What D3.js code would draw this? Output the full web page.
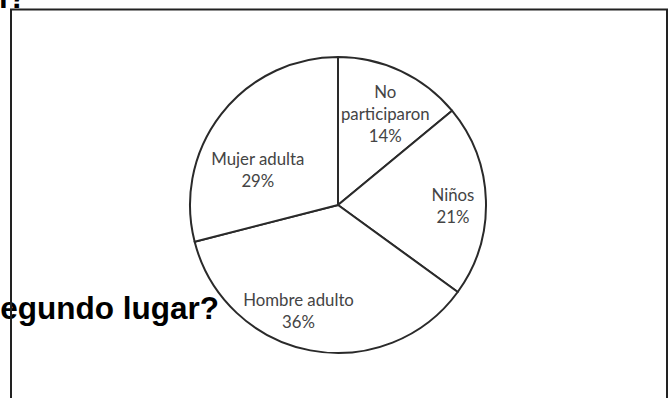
<!DOCTYPE html>
<html><head><meta charset="utf-8">
<script src="https://cdn.jsdelivr.net/npm/d3@7/dist/d3.min.js"></script>
<style>html,body{margin:0;padding:0;background:#fff;overflow:hidden}</style>
</head><body>
<script>
const categories = ["No participaron", "Niños", "Hombre adulto", "Mujer adulta"];
const values = [14, 21, 36, 29];
const labelLines = [["No", "participaron", "14%"], ["Niños", "21%"], ["Hombre adulto", "36%"], ["Mujer adulta", "29%"]];
const questionTail = "egundo lugar?";
const questionTopTail = "l?";

const W = 670, H = 398;
const svg = d3.select("body").append("svg").attr("width", W).attr("height", H);

// background question text (cut off)
svg.append("text").attr("x", 219).attr("y", 319).attr("text-anchor", "end")
  .attr("font-family", "Liberation Sans, Arial, sans-serif").attr("font-weight", "bold")
  .attr("font-size", 31.5).attr("fill", "#000").text(questionTail);
svg.append("text").attr("x", 27).attr("y", 8).attr("text-anchor", "end")
  .attr("font-family", "Liberation Sans, Arial, sans-serif").attr("font-weight", "bold")
  .attr("font-size", 31.5).attr("fill", "#000").text(questionTopTail);

// frame
svg.append("rect").attr("x", 11).attr("y", 9.5).attr("width", 656).attr("height", 420)
  .attr("fill", "none").attr("stroke", "#222").attr("stroke-width", 2);

const cx = 338, cy = 205, r = 148;
const g = svg.append("g").attr("transform", `translate(${cx},${cy})`);
const pie = d3.pie().sort(null).value(d => d)(values);
const arc = d3.arc().innerRadius(0).outerRadius(r);
g.selectAll("path.slice").data(pie).join("path").attr("class", "slice")
  .attr("d", arc).attr("fill", "#fff").attr("stroke", "#2a2a2a").attr("stroke-width", 2)
  .attr("stroke-linejoin", "round");

const labelArc = d3.arc().innerRadius(104).outerRadius(104);
const nudge = [[3, 3], [11, 4], [-20, 4], [2, 29]];
const lh = 22;
pie.forEach((p, i) => {
  const [x, y] = labelArc.centroid(p);
  const lines = labelLines[i];
  const t = g.append("text").attr("text-anchor", "middle")
    .attr("font-family", "Lato, 'Open Sans', sans-serif").attr("font-size", 16.8)
    .attr("fill", "#444");
  const x0 = x + nudge[i][0], y0 = y + nudge[i][1] - (lines.length - 1) * lh / 2;
  lines.forEach((s, j) => {
    t.append("tspan").attr("x", x0).attr("y", y0 + j * lh).attr("dy", "0.35em").text(s);
  });
});
</script>
</body></html>
